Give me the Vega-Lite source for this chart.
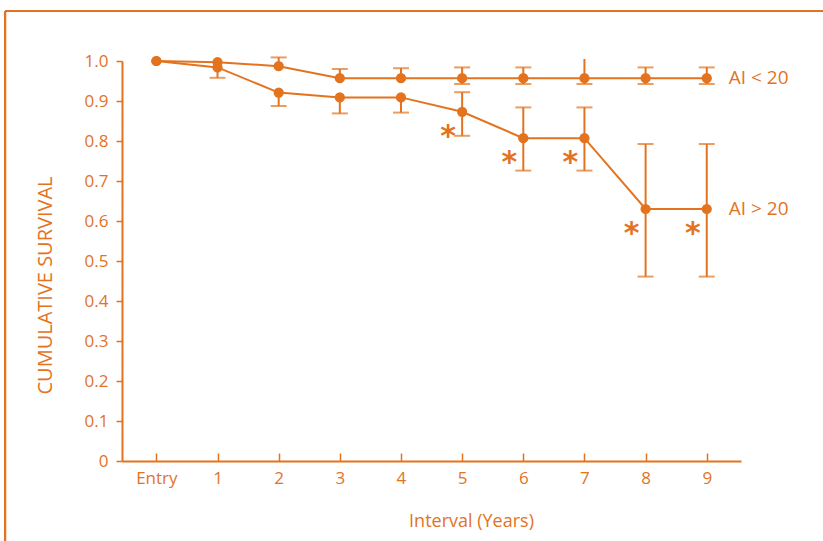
{
  "$schema": "https://vega.github.io/schema/vega-lite/v6.json",
  "autosize": "none",
  "width": 619,
  "height": 400,
  "padding": {"left": 122, "top": 61, "right": 82, "bottom": 80},
  "background": "white",
  "config": {
    "view": {"stroke": null},
    "font": "Open Sans",
    "axis": {
      "domainColor": "#E3731F", "domainWidth": 2, "tickColor": "#E3731F", "tickWidth": 1.5,
      "labelColor": "#E3731F", "titleColor": "#E3731F", "grid": false,
      "labelFont": "Open Sans", "titleFont": "Open Sans",
      "labelFontSize": 17, "titleFontSize": 18, "titleFontWeight": "normal"
    }
  },
  "datasets": {
    "main": [
      {"series": "AI < 20", "interval": 0, "value": 1.0, "lo": null, "hi": null, "star": false},
      {"series": "AI < 20", "interval": 1, "value": 0.997, "lo": null, "hi": null, "star": false},
      {"series": "AI < 20", "interval": 2, "value": 0.987, "lo": 0.987, "hi": 1.009, "star": false},
      {"series": "AI < 20", "interval": 3, "value": 0.957, "lo": 0.957, "hi": 0.98, "star": false},
      {"series": "AI < 20", "interval": 4, "value": 0.957, "lo": 0.957, "hi": 0.982, "star": false},
      {"series": "AI < 20", "interval": 5, "value": 0.957, "lo": 0.9425, "hi": 0.984, "star": false},
      {"series": "AI < 20", "interval": 6, "value": 0.957, "lo": 0.9425, "hi": 0.984, "star": false},
      {"series": "AI < 20", "interval": 7, "value": 0.957, "lo": 0.9425, "hi": 1.005, "star": false},
      {"series": "AI < 20", "interval": 8, "value": 0.957, "lo": 0.9425, "hi": 0.984, "star": false},
      {"series": "AI < 20", "interval": 9, "value": 0.957, "lo": 0.9425, "hi": 0.984, "star": false},
      {"series": "AI > 20", "interval": 0, "value": 1.0, "lo": null, "hi": null, "star": false},
      {"series": "AI > 20", "interval": 1, "value": 0.984, "lo": 0.958, "hi": 0.984, "star": false},
      {"series": "AI > 20", "interval": 2, "value": 0.921, "lo": 0.8875, "hi": 0.921, "star": false},
      {"series": "AI > 20", "interval": 3, "value": 0.909, "lo": 0.869, "hi": 0.909, "star": false},
      {"series": "AI > 20", "interval": 4, "value": 0.909, "lo": 0.871, "hi": 0.909, "star": false},
      {"series": "AI > 20", "interval": 5, "value": 0.873, "lo": 0.813, "hi": 0.922, "star": true},
      {"series": "AI > 20", "interval": 6, "value": 0.807, "lo": 0.726, "hi": 0.884, "star": true},
      {"series": "AI > 20", "interval": 7, "value": 0.807, "lo": 0.726, "hi": 0.884, "star": true},
      {"series": "AI > 20", "interval": 8, "value": 0.63, "lo": 0.461, "hi": 0.7925, "star": true},
      {"series": "AI > 20", "interval": 9, "value": 0.63, "lo": 0.461, "hi": 0.7925, "star": true}
    ],
    "caps": [
      {"series": "AI < 20", "interval": 2, "cap": 1.009},
      {"series": "AI < 20", "interval": 3, "cap": 0.98},
      {"series": "AI < 20", "interval": 4, "cap": 0.982},
      {"series": "AI < 20", "interval": 5, "cap": 0.984},
      {"series": "AI < 20", "interval": 5, "cap": 0.9425},
      {"series": "AI < 20", "interval": 6, "cap": 0.984},
      {"series": "AI < 20", "interval": 6, "cap": 0.9425},
      {"series": "AI < 20", "interval": 7, "cap": 0.9425},
      {"series": "AI < 20", "interval": 8, "cap": 0.984},
      {"series": "AI < 20", "interval": 8, "cap": 0.9425},
      {"series": "AI < 20", "interval": 9, "cap": 0.984},
      {"series": "AI < 20", "interval": 9, "cap": 0.9425},
      {"series": "AI > 20", "interval": 1, "cap": 0.958},
      {"series": "AI > 20", "interval": 2, "cap": 0.8875},
      {"series": "AI > 20", "interval": 3, "cap": 0.869},
      {"series": "AI > 20", "interval": 4, "cap": 0.871},
      {"series": "AI > 20", "interval": 5, "cap": 0.922},
      {"series": "AI > 20", "interval": 5, "cap": 0.813},
      {"series": "AI > 20", "interval": 6, "cap": 0.884},
      {"series": "AI > 20", "interval": 6, "cap": 0.726},
      {"series": "AI > 20", "interval": 7, "cap": 0.884},
      {"series": "AI > 20", "interval": 7, "cap": 0.726},
      {"series": "AI > 20", "interval": 8, "cap": 0.7925},
      {"series": "AI > 20", "interval": 8, "cap": 0.461},
      {"series": "AI > 20", "interval": 9, "cap": 0.7925},
      {"series": "AI > 20", "interval": 9, "cap": 0.461}
    ]
  },
  "layer": [
    {
      "data": {"name": "main"},
      "mark": {"type": "rule", "color": "#E3731F", "strokeWidth": 2},
      "encoding": {
        "x": {"datum": -2.475, "type": "quantitative", "scale": {"domain": [-0.562, 9.56]},
          "axis": {"title": "Interval (Years)", "values": [0,1,2,3,4,5,6,7,8,9],
            "labelExpr": "datum.value == 0 ? 'Entry' : datum.value",
            "tickSize": -8, "labelPadding": 17, "titleX": 349, "titleY": 60, "titleBaseline": "middle"}},
        "x2": {"datum": 11.5},
        "y": {"datum": 1.125, "type": "quantitative", "scale": {"domain": [0, 1]},
          "axis": {"title": "CUMULATIVE SURVIVAL", "tickCount": 10, "format": ".1f",
            "labelOverlap": false, "labelFlush": false, "titleFontSize": 20,
            "labelExpr": "datum.label == '0.0' ? '0' : datum.label",
            "tickSize": 6, "labelPadding": 8, "titleX": -77, "titleY": 224, "titleBaseline": "middle"}}
      }
    },
    {
      "data": {"name": "main"},
      "mark": {"type": "rule", "color": "#E3731F", "strokeWidth": 2},
      "encoding": {
        "x": {"datum": -2.475, "type": "quantitative", "scale": {"domain": [-0.562, 9.56]}},
        "y": {"datum": 1.125, "type": "quantitative", "scale": {"domain": [0, 1]}},
        "y2": {"datum": -0.3}
      }
    },
    {
      "data": {"name": "main"},
      "transform": [{"filter": "datum.lo != null"}],
      "mark": {"type": "rule", "color": "#E3731F", "strokeWidth": 2},
      "encoding": {
        "x": {"field": "interval", "type": "quantitative", "scale": {"domain": [-0.562, 9.56]}},
        "y": {"field": "lo", "type": "quantitative", "scale": {"domain": [0, 1]}},
        "y2": {"field": "hi"}
      }
    },
    {
      "data": {"name": "caps"},
      "mark": {"type": "tick", "orient": "horizontal", "color": "#E3731F", "size": 16, "thickness": 2},
      "encoding": {
        "x": {"field": "interval", "type": "quantitative", "scale": {"domain": [-0.562, 9.56]}},
        "y": {"field": "cap", "type": "quantitative", "scale": {"domain": [0, 1]}}
      }
    },
    {
      "data": {"name": "main"},
      "mark": {"type": "line", "color": "#E3731F", "strokeWidth": 2},
      "encoding": {
        "x": {"field": "interval", "type": "quantitative", "scale": {"domain": [-0.562, 9.56]}},
        "y": {"field": "value", "type": "quantitative", "scale": {"domain": [0, 1]}},
        "detail": {"field": "series"}
      }
    },
    {
      "data": {"name": "main"},
      "mark": {"type": "circle", "color": "#E3731F", "size": 105, "opacity": 1},
      "encoding": {
        "x": {"field": "interval", "type": "quantitative", "scale": {"domain": [-0.562, 9.56]}},
        "y": {"field": "value", "type": "quantitative", "scale": {"domain": [0, 1]}}
      }
    },
    {
      "data": {"name": "main"},
      "transform": [{"filter": "datum.star"}],
      "mark": {"type": "text", "text": "*", "color": "#E3731F", "font": "DejaVu Sans", "fontWeight": "bold", "fontSize": 30, "align": "center", "baseline": "middle", "dx": -14, "dy": 25},
      "encoding": {
        "x": {"field": "interval", "type": "quantitative", "scale": {"domain": [-0.562, 9.56]}},
        "y": {"field": "value", "type": "quantitative", "scale": {"domain": [0, 1]}}
      }
    },
    {
      "data": {"name": "main"},
      "transform": [{"filter": "datum.interval == 9"}],
      "mark": {"type": "text", "color": "#E3731F", "font": "Open Sans", "fontSize": 19, "align": "left", "baseline": "middle", "dx": 22},
      "encoding": {
        "x": {"field": "interval", "type": "quantitative", "scale": {"domain": [-0.562, 9.56]}},
        "y": {"field": "value", "type": "quantitative", "scale": {"domain": [0, 1]}},
        "text": {"field": "series"}
      }
    }
  ]
}
